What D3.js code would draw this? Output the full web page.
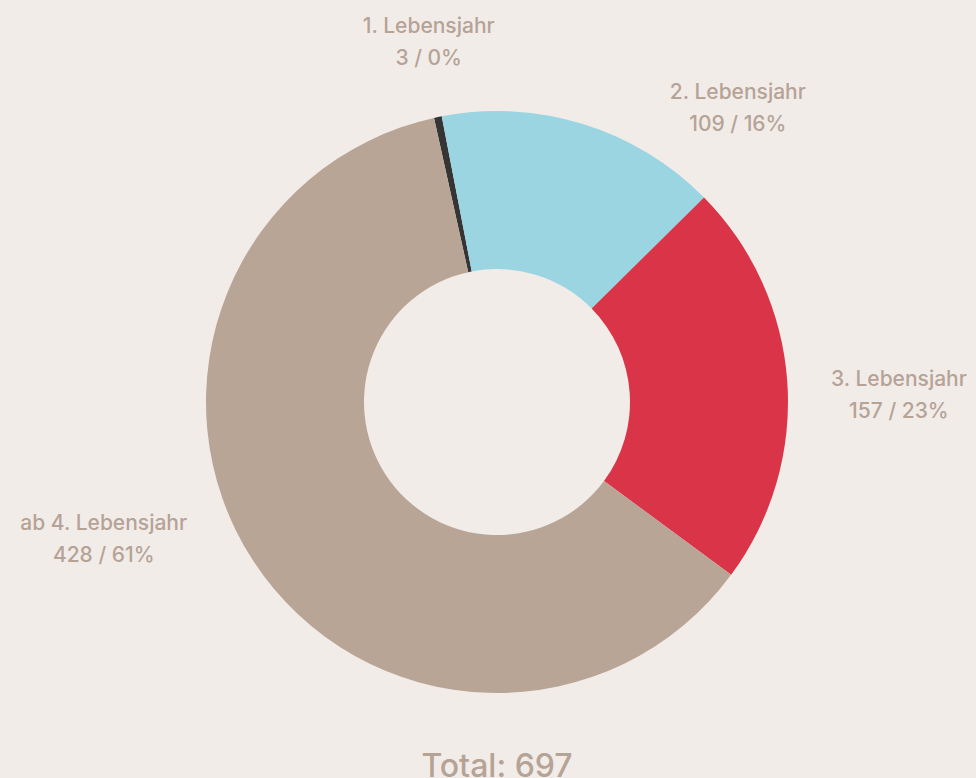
<!DOCTYPE html>
<html>
<head>
<meta charset="utf-8">
<script src="https://cdn.jsdelivr.net/npm/d3@7"></script>
<style>
  body { margin: 0; background: #f2ece9; }
  svg { display: block; }
  .lbl { font-family: Inter, "Open Sans", sans-serif; fill: #b5a396; font-size: 21px; font-weight: 500; text-anchor: middle; }
  .total { font-family: Inter, "Open Sans", sans-serif; fill: #b5a396; font-size: 32px; font-weight: 500; text-anchor: middle; }
</style>
</head>
<body>
<div id="chart"></div>
<script>
var categories = ["1. Lebensjahr", "2. Lebensjahr", "3. Lebensjahr", "ab 4. Lebensjahr"];
var values = [3, 109, 157, 428];
var percents = ["0%", "16%", "23%", "61%"];
var colors = ["#353535", "#9bd5e1", "#d93447", "#b8a596"];

var width = 976, height = 778;
var cx = 497, cy = 402;
var outerR = 291, innerR = 133;
var startAngle = -12.5 * Math.PI / 180;

// label nudges (degrees / radius) to keep the labels where the original put them
var labelShift = [1, 22, 3, 14];
var labelR = [367, 381, 402, 416];

var svg = d3.select("#chart").append("svg")
    .attr("width", width)
    .attr("height", height);

var g = svg.append("g")
    .attr("transform", "translate(" + cx + "," + cy + ")");

var data = categories.map(function (c, i) {
    return { name: c, value: values[i], pct: percents[i], color: colors[i], i: i };
});

var pie = d3.pie()
    .sort(null)
    .value(function (d) { return d.value; })
    .startAngle(startAngle)
    .endAngle(startAngle + 2 * Math.PI);

var arc = d3.arc()
    .innerRadius(innerR)
    .outerRadius(outerR);

var arcs = pie(data);

g.selectAll("path.slice")
    .data(arcs)
    .enter()
    .append("path")
    .attr("class", "slice")
    .attr("d", arc)
    .attr("fill", function (d) { return d.data.color; });

var lbl = g.selectAll("text.lbl")
    .data(arcs)
    .enter()
    .append("text")
    .attr("class", "lbl")
    .attr("transform", function (d) {
        var i = d.data.i;
        var a = (d.startAngle + d.endAngle) / 2 + labelShift[i] * Math.PI / 180;
        var x = Math.sin(a) * labelR[i];
        var y = -Math.cos(a) * labelR[i];
        return "translate(" + x + "," + y + ")";
    });

lbl.append("tspan")
    .attr("x", 0)
    .attr("y", -8)
    .text(function (d) { return d.data.name; });

lbl.append("tspan")
    .attr("x", 0)
    .attr("y", 24)
    .text(function (d) { return d.data.value + " / " + d.data.pct; });

svg.append("text")
    .attr("class", "total")
    .attr("x", cx)
    .attr("y", 777)
    .text("Total: " + d3.sum(values));
</script>
</body>
</html>
